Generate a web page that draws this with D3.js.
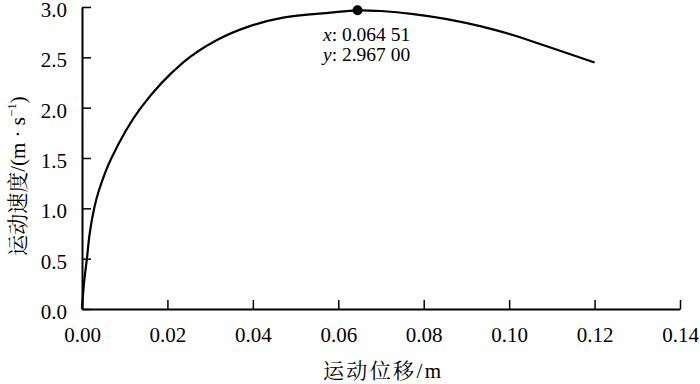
<!DOCTYPE html>
<html>
<head>
<meta charset="utf-8">
<script src="https://cdn.jsdelivr.net/npm/d3@7"></script>
<style>
  html, body { margin: 0; padding: 0; background: #fff; }
  svg { display: block; }
  .serif { font-family: "Liberation Serif", "Times New Roman", Times, "DejaVu Serif", "Noto Serif CJK SC", "Noto Sans CJK SC", serif; }
  .tick text { font-family: "Liberation Serif", "Times New Roman", Times, "DejaVu Serif", serif; font-size: 21px; fill: #000; }
</style>
</head>
<body>
<svg id="chart" width="700" height="384"></svg>
<script>
// Data
const xValues = [0, 0.00047, 0.00115, 0.00180, 0.00285, 0.00390, 0.00690, 0.0138, 0.0237, 0.0315, 0.0393, 0.0471, 0.0581, 0.06451, 0.0700, 0.0776, 0.0854, 0.0932, 0.1010, 0.1088, 0.1200];
const yValues = [0, 0.257, 0.50, 0.75, 1.00, 1.17, 1.50, 2.00, 2.45, 2.67, 2.81, 2.894, 2.944, 2.967, 2.960, 2.93, 2.88, 2.81, 2.72, 2.61, 2.449];
const peakPoint = [0.06451, 2.967];
const peakLabels = ["0.064 51", "2.967 00"];
const xTicks = [0, 0.02, 0.04, 0.06, 0.08, 0.10, 0.12, 0.14];
const yTicks = [0, 0.5, 1.0, 1.5, 2.0, 2.5, 3.0];
const xTitle = "运动位移/m";
const yTitle = "运动速度/(m · s";

const svg = d3.select("#chart");
const mLeft = 82, mRight = 680, mTop = 7, mBottom = 309;

const x = d3.scaleLinear().domain([0, 0.14]).range([mLeft, mRight]);
const y = d3.scaleLinear().domain([0, 3.0]).range([mBottom, mTop]);

const xAxis = d3.axisBottom(x).tickValues(xTicks).tickFormat(d3.format(".2f")).tickSizeInner(-9).tickSizeOuter(0).tickPadding(18);
const yAxis = d3.axisLeft(y).tickValues(yTicks).tickFormat(d3.format(".1f")).tickSizeInner(-9).tickSizeOuter(0).tickPadding(15);

const gx = svg.append("g").attr("transform", `translate(0,${mBottom})`).call(xAxis);
const gy = svg.append("g").attr("transform", `translate(${mLeft},0)`).call(yAxis);
[gx, gy].forEach(g => {
  g.attr("font-family", null).attr("font-size", null);
  g.selectAll("path.domain").attr("stroke", "#000").attr("stroke-width", 2);
  g.selectAll(".tick line").attr("stroke", "#000").attr("stroke-width", 1.5);
});
gy.selectAll(".tick text").attr("dy", "0.45em");

// Curve
const data = xValues.map((v, i) => [v, yValues[i]]);
const line = d3.line().x(d => x(d[0])).y(d => y(d[1])).curve(d3.curveCatmullRom.alpha(0.5));
svg.append("path").datum(data).attr("d", line).attr("fill", "none").attr("stroke", "#000").attr("stroke-width", 2.2);

// Peak marker
svg.append("circle").attr("cx", x(peakPoint[0])).attr("cy", y(peakPoint[1])).attr("r", 5).attr("fill", "#000");

const ann = svg.append("g").attr("class", "serif").attr("font-size", 19.5).attr("fill", "#000");
const t1 = ann.append("text").attr("x", 323).attr("y", 41);
t1.append("tspan").attr("font-style", "italic").text("x");
t1.append("tspan").text(": " + peakLabels[0]);
const t2 = ann.append("text").attr("x", 323).attr("y", 61);
t2.append("tspan").attr("font-style", "italic").text("y");
t2.append("tspan").text(": " + peakLabels[1]);

// Axis titles
svg.append("text")
  .attr("class", "serif")
  .attr("x", 382).attr("y", 378)
  .attr("text-anchor", "middle")
  .attr("font-size", 21)
  .attr("textLength", 118)
  .attr("lengthAdjust", "spacing")
  .text(xTitle);

const yt = svg.append("text")
  .attr("class", "serif")
  .attr("transform", "translate(25,176) rotate(-90)")
  .attr("text-anchor", "middle")
  .attr("font-size", 21);
yt.append("tspan").text(yTitle);
yt.append("tspan").attr("font-size", 13).attr("dy", -9).text("−1");
yt.append("tspan").attr("dy", 9).text(")");
</script>
</body>
</html>
